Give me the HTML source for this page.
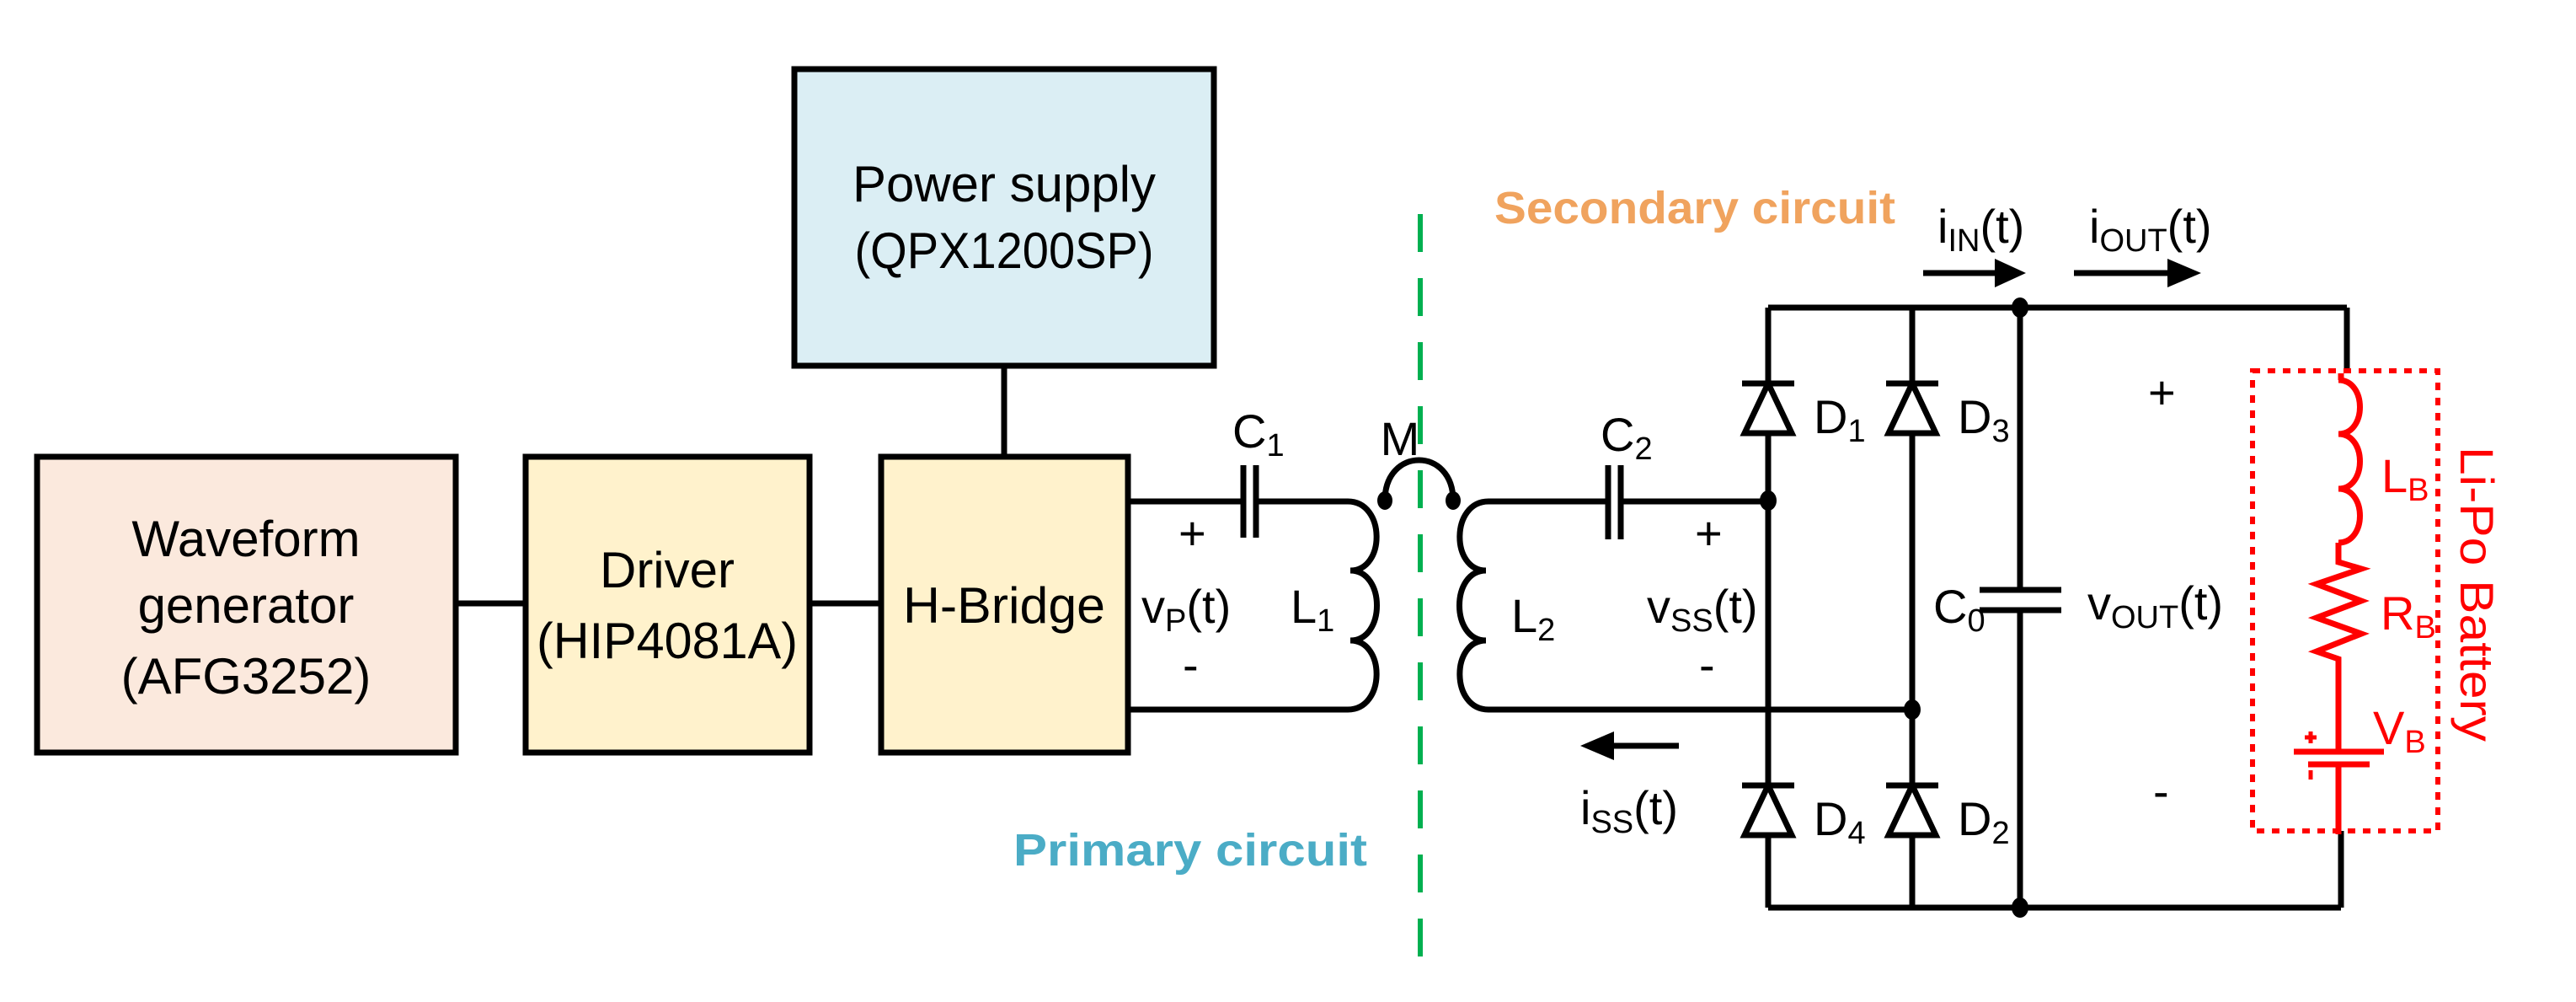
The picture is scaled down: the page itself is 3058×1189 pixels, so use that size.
<!DOCTYPE html>
<html><head><meta charset="utf-8"><style>html,body{margin:0;padding:0;background:#fff}svg{display:block}</style></head>
<body>
<svg width="3058" height="1189" viewBox="0 0 3058 1189" xmlns="http://www.w3.org/2000/svg" font-family="Liberation Sans, sans-serif">
<g stroke="#000" stroke-width="7" fill="none">
  <rect x="44" y="542" width="497" height="351" fill="#fbe9dd"/>
  <rect x="624" y="542" width="337" height="351" fill="#fff2cc"/>
  <rect x="1046" y="542" width="293" height="351" fill="#fff2cc"/>
  <rect x="943" y="82" width="498" height="352" fill="#dbeef4"/>
  <line x1="541" y1="716" x2="624" y2="716"/>
  <line x1="961" y1="716" x2="1046" y2="716"/>
  <line x1="1192" y1="434" x2="1192" y2="542"/>
  <!-- primary -->
  <line x1="1339" y1="595" x2="1476" y2="595"/>
  <line x1="1476" y1="552" x2="1476" y2="638"/>
  <line x1="1491" y1="552" x2="1491" y2="638"/>
  <line x1="1491" y1="595" x2="1600" y2="595"/>
  <line x1="1339" y1="842" x2="1600" y2="842"/>
  <path d="M1600 595 C1645 595 1645 677 1603 677 C1645 677 1645 760 1603 760 C1645 760 1645 842 1600 842"/>
  <!-- M -->
  <path d="M1644 594 C1644 530 1725 530 1725 594"/>
  <!-- secondary coil -->
  <path d="M1767 595 C1722 595 1722 677 1764 677 C1722 677 1722 760 1764 760 C1722 760 1722 842 1767 842"/>
  <line x1="1767" y1="595" x2="1909" y2="595"/>
  <line x1="1909" y1="552" x2="1909" y2="640"/>
  <line x1="1924" y1="552" x2="1924" y2="640"/>
  <line x1="1924" y1="595" x2="2099" y2="595"/>
  <line x1="1767" y1="842" x2="2270" y2="842"/>
  <!-- rails -->
  <line x1="2099" y1="365" x2="2786" y2="365"/>
  <line x1="2099" y1="1077" x2="2779" y2="1077"/>
  <line x1="2099" y1="365" x2="2099" y2="1077"/>
  <line x1="2270" y1="365" x2="2270" y2="1077"/>
  <line x1="2398" y1="365" x2="2398" y2="700"/>
  <line x1="2398" y1="724" x2="2398" y2="1077"/>
  <line x1="2350" y1="700" x2="2447" y2="700"/>
  <line x1="2350" y1="724" x2="2447" y2="724"/>
  <line x1="2786" y1="365" x2="2786" y2="443"/>
  <line x1="2779" y1="986" x2="2779" y2="1077"/>
  <!-- diodes -->
  <g fill="#fff">
    <path d="M2099 455 L2071 514 L2127 514 Z"/><line x1="2068" y1="455" x2="2130" y2="455"/>
    <path d="M2270 455 L2242 514 L2298 514 Z"/><line x1="2239" y1="455" x2="2301" y2="455"/>
    <path d="M2099 932 L2071 991 L2127 991 Z"/><line x1="2068" y1="932" x2="2130" y2="932"/>
    <path d="M2270 932 L2242 991 L2298 991 Z"/><line x1="2239" y1="932" x2="2301" y2="932"/>
  </g>
  <!-- arrows -->
  <line x1="2283" y1="324" x2="2375" y2="324"/>
  <line x1="2462" y1="324" x2="2580" y2="324"/>
  <line x1="1910" y1="885" x2="1993" y2="885"/>
</g>
<g fill="#000">
  <path d="M2405 324 L2368 307 L2368 341 Z"/>
  <path d="M2613 324 L2573 307 L2573 341 Z"/>
  <path d="M1876 885 L1916 868 L1916 902 Z"/>
  <ellipse cx="1644" cy="594" rx="9" ry="11"/>
  <ellipse cx="1725" cy="594" rx="9" ry="11"/>
  <ellipse cx="2099" cy="594" rx="10" ry="12"/>
  <ellipse cx="2270" cy="842" rx="10" ry="12"/>
  <ellipse cx="2398" cy="365" rx="10" ry="12"/>
  <ellipse cx="2398" cy="1077" rx="10" ry="12"/>
</g>
<line x1="1686" y1="254" x2="1686" y2="1149" stroke="#00b050" stroke-width="6" stroke-dasharray="45 31"/>
<!-- battery -->
<g stroke="#ff0000" stroke-width="7" fill="none">
  <rect x="2674" y="440" width="220" height="546" stroke-dasharray="9 9" stroke-width="6"/>
  <line x1="2779" y1="443" x2="2779" y2="451"/>
  <path d="M2776 451 C2810 451 2810 515 2776 515 C2810 515 2810 580 2776 580 C2810 580 2810 644 2776 644"/>
  <polyline points="2776,644 2776,667 2803,675 2750,693 2803,713 2750,733 2803,752 2750,773 2776,782 2776,892"/>
  <line x1="2723" y1="892" x2="2830" y2="892"/>
  <line x1="2740" y1="907" x2="2813" y2="907"/>
  <line x1="2776" y1="907" x2="2776" y2="990"/>
  <line x1="2736" y1="875" x2="2750" y2="875" stroke-width="5"/>
  <line x1="2743" y1="868" x2="2743" y2="882" stroke-width="5"/>
  <line x1="2743" y1="914" x2="2743" y2="925" stroke-width="5"/>
</g>
<g font-size="60" fill="#000" text-anchor="middle">
  <text x="292" y="660">Waveform</text>
  <text x="292" y="739">generator</text>
  <text x="292" y="823">(AFG3252)</text>
  <text x="792" y="697">Driver</text>
  <text x="792" y="781" textLength="310" lengthAdjust="spacingAndGlyphs">(HIP4081A)</text>
  <text x="1192" y="739" textLength="240" lengthAdjust="spacingAndGlyphs">H-Bridge</text>
  <text x="1192" y="239" textLength="360" lengthAdjust="spacingAndGlyphs">Power supply</text>
  <text x="1192" y="318" textLength="355" lengthAdjust="spacingAndGlyphs">(QPX1200SP)</text>
</g>
<g font-size="56" fill="#000">
  <text x="1463" y="531">C<tspan font-size="38" dy="10">1</tspan></text>
  <text x="1399" y="652">+</text>
  <text x="1404" y="808">-</text>
  <text x="1355" y="739">v<tspan font-size="38" dy="10">P</tspan><tspan dy="-10">(t)</tspan></text>
  <text x="1532" y="739">L<tspan font-size="38" dy="10">1</tspan></text>
  <text x="1662" y="540" text-anchor="middle">M</text>
  <text x="1900" y="535">C<tspan font-size="38" dy="10">2</tspan></text>
  <text x="1794" y="750">L<tspan font-size="38" dy="10">2</tspan></text>
  <text x="2012" y="652">+</text>
  <text x="2017" y="808">-</text>
  <text x="1955" y="739">v<tspan font-size="38" dy="10">SS</tspan><tspan dy="-10">(t)</tspan></text>
  <text x="1876" y="978">i<tspan font-size="38" dy="10">SS</tspan><tspan dy="-10">(t)</tspan></text>
  <text x="2153" y="514">D<tspan font-size="38" dy="10">1</tspan></text>
  <text x="2324" y="514">D<tspan font-size="38" dy="10">3</tspan></text>
  <text x="2153" y="991">D<tspan font-size="38" dy="10">4</tspan></text>
  <text x="2324" y="991">D<tspan font-size="38" dy="10">2</tspan></text>
  <text x="2295" y="739">C<tspan font-size="38" dy="10">0</tspan></text>
  <text x="2478" y="735">v<tspan font-size="38" dy="10">OUT</tspan><tspan dy="-10">(t)</tspan></text>
  <text x="2550" y="485">+</text>
  <text x="2556" y="958">-</text>
  <text x="2300" y="288">i<tspan font-size="38" dy="10">IN</tspan><tspan dy="-10">(t)</tspan></text>
  <text x="2480" y="288">i<tspan font-size="38" dy="10">OUT</tspan><tspan dy="-10">(t)</tspan></text>
</g>
<g font-size="56" fill="#ff0000">
  <text x="2827" y="584">L<tspan font-size="38" dy="10">B</tspan></text>
  <text x="2826" y="747">R<tspan font-size="38" dy="10">B</tspan></text>
  <text x="2817" y="883">V<tspan font-size="38" dy="10">B</tspan></text>
  <text transform="translate(2921,705) rotate(90)" text-anchor="middle" textLength="350" lengthAdjust="spacingAndGlyphs">Li-Po Battery</text>
</g>
<text x="1203" y="1027" font-size="54" font-weight="bold" fill="#4bacc6" textLength="420" lengthAdjust="spacingAndGlyphs">Primary circuit</text>
<text x="1774" y="265" font-size="54" font-weight="bold" fill="#f0a35e" textLength="476" lengthAdjust="spacingAndGlyphs">Secondary circuit</text>
</svg>
</body></html>
